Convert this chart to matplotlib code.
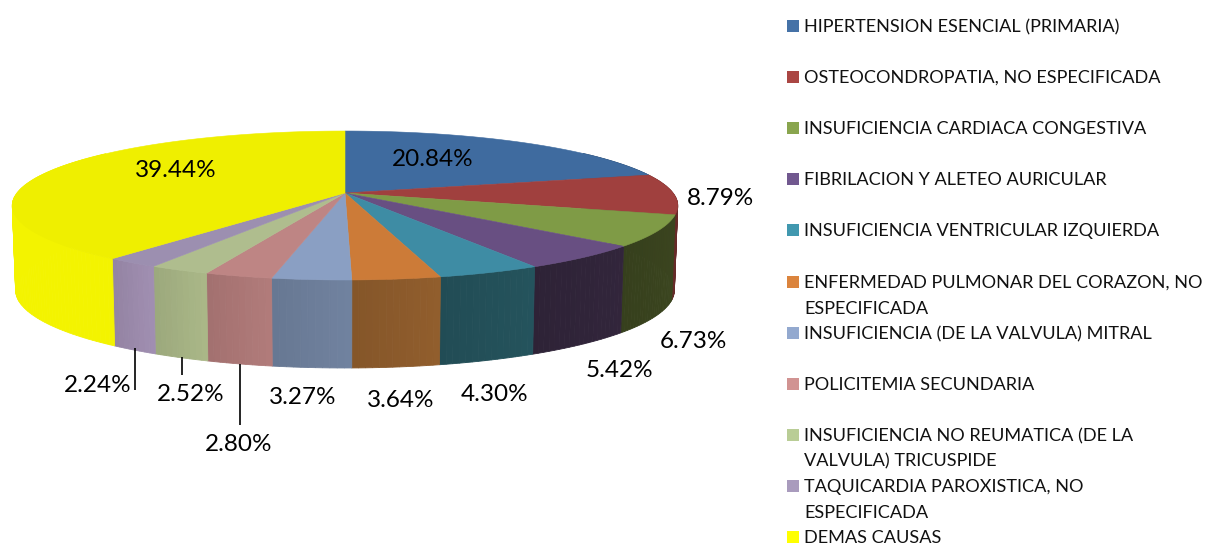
import numpy as np
import matplotlib
matplotlib.use("Agg")
import matplotlib.pyplot as plt
from matplotlib.colors import to_rgb
from matplotlib.patches import Rectangle

categories = [
    "HIPERTENSION ESENCIAL (PRIMARIA)",
    "OSTEOCONDROPATIA, NO ESPECIFICADA",
    "INSUFICIENCIA CARDIACA CONGESTIVA",
    "FIBRILACION Y ALETEO AURICULAR",
    "INSUFICIENCIA VENTRICULAR IZQUIERDA",
    "ENFERMEDAD PULMONAR DEL CORAZON, NO\nESPECIFICADA",
    "INSUFICIENCIA (DE LA VALVULA) MITRAL",
    "POLICITEMIA SECUNDARIA",
    "INSUFICIENCIA NO REUMATICA (DE LA\nVALVULA) TRICUSPIDE",
    "TAQUICARDIA PAROXISTICA, NO\nESPECIFICADA",
    "DEMAS CAUSAS",
]
values = [20.84, 8.79, 6.73, 5.42, 4.30, 3.64, 3.27, 2.80, 2.52, 2.24, 39.44]
legend_colors = ["#4572a7", "#aa4643", "#89a54e", "#71588f", "#4198af", "#db843d",
                 "#93a9cf", "#d19392", "#b9cd96", "#a99bbd", "#ffff00"]
top_colors = ["#3f6b9f", "#a0403e", "#7f9b46", "#684f82", "#3e8ca4", "#cc7b38",
              "#8a9fc3", "#be8584", "#afbd8e", "#9c8fb0", "#efef00"]
wall_colors = ["#2b4a6e", "#6b2c2a", "#39431e", "#302439", "#235059", "#8b5a2b",
               "#6c7d99", "#aa7675", "#a3b082", "#9a89aa", "#ededa0"]
wall_colors[-1] = "#eeee00"
label_pos = [(433, 159.5), (721, 198.5), (693, 341.5), (619, 370.5), (495, 394.5), (401, 400.5),
             (303, 397.5), (239, 444.5), (191, 394.5), (98, 385.5), (176, 170.5)]
leaders = [(135, 348, 390), (182, 357, 375), (240, 364, 425)]

CX, R, CP, YC, YA = 345.0, 328.0, 0.1678, 193.0, -40.0
DEPTH, DEPTH_FRONT, SHRINK = 84.0, 4.0, 0.99


def project(theta, shrink=1.0, bottom=False):
    u, v = np.sin(theta), np.cos(theta)
    d = 1 + CP * v
    y = (YA * v + YC) / d
    if bottom:
        y = y + DEPTH - DEPTH_FRONT * v
    return CX + shrink * R * u / d, y


def shade(col, f):
    return tuple(min(1, c * f) for c in to_rgb(col))


fig = plt.figure(figsize=(12.06, 5.45), dpi=100)
ax = fig.add_axes([0, 0, 1, 1])
ax.set_xlim(0, 1206)
ax.set_ylim(545, 0)
ax.axis("off")

edges = np.deg2rad(np.concatenate([[0], np.cumsum(values)]) / sum(values) * 360)

# side walls
for a, b, col in zip(edges[:-1], edges[1:], wall_colors):
    n = max(4, int((b - a) / np.deg2rad(1.0)))
    th = np.linspace(a, b, n + 1)
    for i in range(n):
        t = np.array([th[i], th[i + 1]])
        if np.cos(t.mean()) > 0.6:
            continue
        x1, y1 = project(t)
        x2, y2 = project(t[::-1], SHRINK, True)
        f = 1.02 if col == "#eeee00" else 1.04 - 0.09 * i / n
        ax.fill(np.r_[x1, x2], np.r_[y1, y2], color=shade(col, f), lw=0.6, zorder=2)

# top face
for a, b, col in zip(edges[:-1], edges[1:], top_colors):
    th = np.linspace(a, b, max(4, int((b - a) / np.deg2rad(0.5))))
    x, y = project(th)
    ax.fill(np.r_[CX, x], np.r_[YC, y], color=col, lw=0.4, zorder=3)

# data labels
for v, (x, y) in zip(values, label_pos):
    ax.text(x, y, f"{v:.2f}%", ha="center", va="center", family="Lato",
            fontsize=17.5, color="black", zorder=5)
for x, y0, y1 in leaders:
    ax.plot([x, x], [y0, y1], color="black", lw=1.2, zorder=4, solid_capstyle="butt")

# legend
ys = [26, 77, 128, 179, 230, 282, 333, 384, 435, 486, 537]
for name, col, y in zip(categories, legend_colors, ys):
    ax.add_patch(Rectangle((787, y - 6), 12, 12, color=col, lw=0))
    for k, line in enumerate(name.split("\n")):
        ax.text(804, y + 6 + k * 25.7, line, ha="left", va="baseline", family="Lato",
                fontsize=13.1, color="#111111")

fig.savefig("out.png", dpi=100)
